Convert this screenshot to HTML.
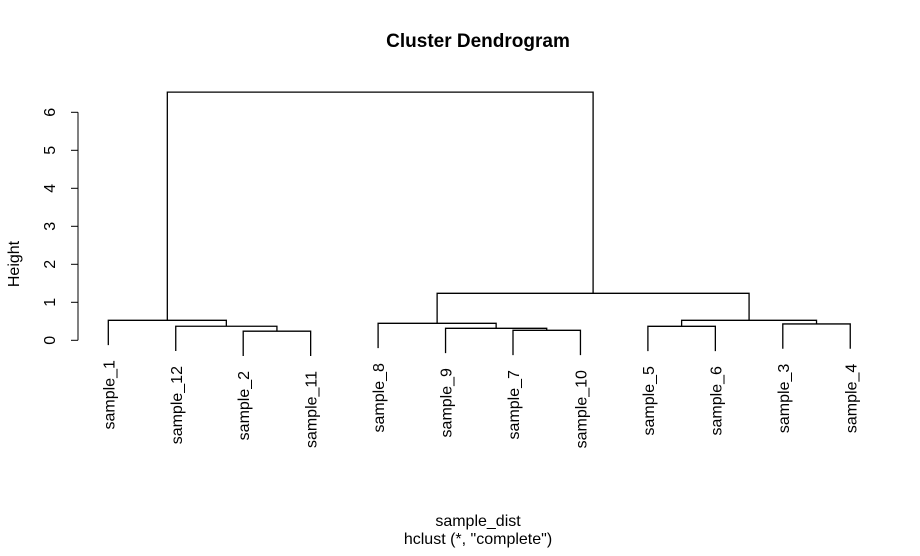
<!DOCTYPE html>
<html><head><meta charset="utf-8"><style>
body{margin:0;background:#fff}
svg text{font-family:"Liberation Sans",Arial,sans-serif;fill:#000}
</style></head><body>
<svg id="c" width="920" height="551" xmlns="http://www.w3.org/2000/svg">
<text x="478" y="47" text-anchor="middle" font-size="19" font-weight="bold">Cluster Dendrogram</text>
<text x="478" y="526" text-anchor="middle" font-size="16">sample_dist</text>
<text x="478" y="544" text-anchor="middle" font-size="16">hclust (*, "complete")</text>
<text transform="translate(19,264) rotate(-90)" text-anchor="middle" font-size="16">Height</text>
<g id="axis"></g>
<g id="tree"></g>
<g id="labels"></g>
</svg>
<script>
const leafLabels=["sample_1","sample_12","sample_2","sample_11","sample_8","sample_9","sample_7","sample_10","sample_5","sample_6","sample_3","sample_4"];
// merges: negative = leaf index (1-based in order), positive = merge index (1-based)
const mergeA=[-3,-7,-9,-11,-2,-6,-5,3,-1,7,9];
const mergeB=[-4,-8,-10,-12,1,2,6,4,5,8,10];
const mergeH=[0.24,0.263,0.368,0.43,0.37,0.316,0.447,0.526,0.526,1.237,6.53];
const yTicks=[0,1,2,3,4,5,6];
</script>
<script>
const NS="http://www.w3.org/2000/svg";
const y0=340.3,pu=38,x0=108.3,dx=67.45,hang=0.652;
const Y=v=>y0-v*pu, X=i=>x0+i*dx;
function mk(t,a,p){const e=document.createElementNS(NS,t);for(const k in a)e.setAttribute(k,a[k]);p.appendChild(e);return e;}
const ax=document.getElementById('axis');
const l=mk('line',{x1:78,x2:78,y1:Y(yTicks[yTicks.length-1]),y2:Y(yTicks[0]),stroke:'#000'},ax);


yTicks.forEach(t=>{
 const tk=mk('line',{x1:71,x2:78,y1:Y(t),y2:Y(t),stroke:'#000'},ax);
 
 
 const tx=mk('text',{transform:`translate(55,${Y(t)}) rotate(-90)`,'text-anchor':'middle','font-size':16},ax);
 tx.textContent=t;
 
 
});
const tree=document.getElementById('tree'),lab=document.getElementById('labels');
const nx=[],nh=[];
function info(r){ if(r<0){return {x:X(-r-1),h:null,leaf:-r-1};} return {x:nx[r-1],h:nh[r-1]}; }
for(let i=0;i<mergeA.length;i++){
 const a=info(mergeA[i]),b=info(mergeB[i]),h=mergeH[i];
 const ha=a.h===null?h-hang:a.h, hb=b.h===null?h-hang:b.h;
 const p=mk('path',{d:`M${a.x},${Y(ha)}V${Y(h)}H${b.x}V${Y(hb)}`,fill:'none',stroke:'#000','stroke-width':1.3},tree);
 
 
 [a,b].forEach(c=>{ if(c.h===null){
  const t=mk('text',{transform:`translate(${c.x+6},${Y(h-hang)+15}) rotate(-90)`,'text-anchor':'end','font-size':16},lab);
  t.textContent=leafLabels[c.leaf];
  
  
 }});
 nx.push((a.x+b.x)/2);nh.push(h);
}
</script>
</body></html>
